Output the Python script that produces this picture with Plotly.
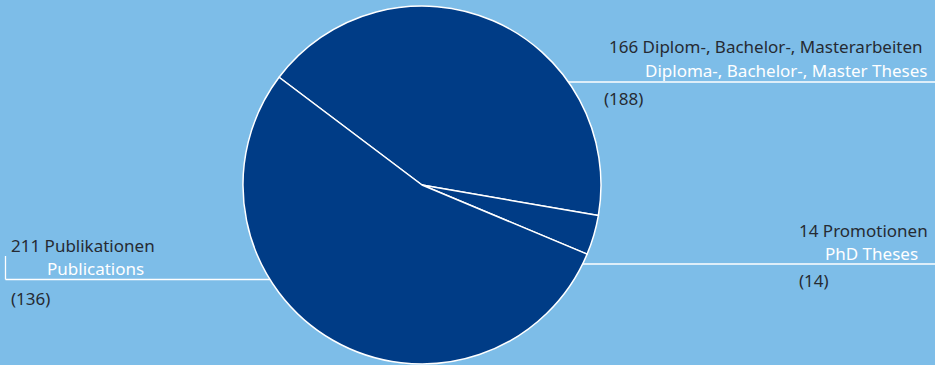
import plotly.graph_objects as go

# Output counts per category (current year, previous year in brackets)
categories_de = ["Diplom-, Bachelor-, Masterarbeiten", "Promotionen", "Publikationen"]
categories_en = ["Diploma-, Bachelor-, Master Theses", "PhD Theses", "Publications"]
counts = [166, 14, 211]
previous = [188, 14, 136]

BG = "#7dbde8"
PIE = "#003c86"
DARK = "#262b33"
WHITE = "#ffffff"
FONT = "Noto Sans"

W, H = 935, 365
cx, cy, r = 422, 185, 179  # pie centre and radius in pixels


def px(x):
    return x / W


def py(y):
    return 1 - y / H


fig = go.Figure(
    go.Pie(
        labels=categories_de,
        values=counts,
        sort=False,
        direction="clockwise",
        rotation=-53,
        textinfo="none",
        hoverinfo="label+value",
        marker=dict(colors=[PIE] * len(counts), line=dict(color=WHITE, width=1.5)),
        domain=dict(x=[px(cx - r), px(cx + r)], y=[py(cy + r), py(cy - r)]),
        showlegend=False,
    )
)

# leader lines (drawn beneath the pie so they appear to start at its rim)
line_style = dict(color=WHITE, width=1.3)
shapes = [
    dict(type="line", x0=px(cx), x1=1, y0=py(82), y1=py(82)),
    dict(type="line", x0=px(cx), x1=1, y0=py(264), y1=py(264)),
    dict(type="line", x0=px(5.5), x1=px(cx), y0=py(279.5), y1=py(279.5)),
    dict(type="line", x0=px(5.5), x1=px(5.5), y0=py(256), y1=py(279.5)),
]
for s in shapes:
    s.update(xref="paper", yref="paper", layer="below", line=line_style)

annotations = []


def label(text, x, y, color, anchor):
    annotations.append(
        dict(
            text=text, x=px(x), y=py(y), xref="paper", yref="paper",
            xanchor=anchor, yanchor="middle", showarrow=False,
            font=dict(family=FONT, size=17, color=color),
        )
    )


# Diplom / Bachelor / Master
label(f"{counts[0]} {categories_de[0]}", 925, 46, DARK, "right")
label(categories_en[0], 929, 70, WHITE, "right")
label(f"({previous[0]})", 602, 98, DARK, "left")

# Promotionen
label(f"{counts[1]} {categories_de[1]}", 930, 230, DARK, "right")
label(categories_en[1], 920, 253, WHITE, "right")
label(f"({previous[1]})", 797, 280, DARK, "left")

# Publikationen
label(f"{counts[2]} {categories_de[2]}", 9, 245, DARK, "left")
label(categories_en[2], 45, 268, WHITE, "left")
label(f"({previous[2]})", 9, 298, DARK, "left")

fig.update_layout(
    width=W, height=H,
    margin=dict(l=0, r=0, t=0, b=0),
    paper_bgcolor=BG, plot_bgcolor=BG,
    shapes=shapes, annotations=annotations,
)

fig.write_html("out.html")
